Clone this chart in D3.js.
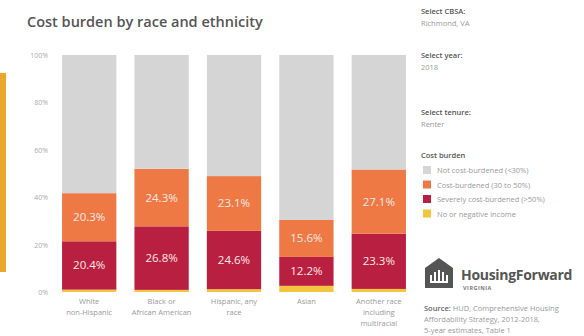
<!DOCTYPE html>
<html>
<head>
<meta charset="utf-8">
<script src="https://cdn.jsdelivr.net/npm/d3@7"></script>
<style>
  body { margin: 0; background: #fff; }
  svg text { font-family: "Open Sans", "Noto Sans", sans-serif; }
</style>
</head>
<body>
<svg id="chart" width="584" height="336"></svg>
<script>
// data
var categories = ["White non-Hispanic", "Black or African American", "Hispanic, any race", "Asian", "Another race including multiracial"];
var catLines = [["White", "non-Hispanic"], ["Black or", "African American"], ["Hispanic, any", "race"], ["Asian"], ["Another race", "including", "multiracial"]];
var noIncome = [1.0, 0.9, 1.2, 2.6, 1.3];
var severe = [20.4, 26.8, 24.6, 12.2, 23.3];
var burdened = [20.3, 24.3, 23.1, 15.6, 27.1];
var seriesNames = ["Not cost-burdened (<30%)", "Cost-burdened (30 to 50%)", "Severely cost-burdened (>50%)", "No or negative income"];
var seriesColors = ["#d5d5d5", "#ee7945", "#b91f41", "#f4c53f"];
var yTicks = [0, 20, 40, 60, 80, 100];

var svg = d3.select('#chart');

// left accent bar
svg.append('rect').attr('x', 0).attr('y', 73).attr('width', 6).attr('height', 199).attr('fill', '#e9a82b');

svg.append('text')
    .attr('x', 27).attr('y', 27)
    .attr('font-size', 14.5).attr('font-weight', 600)
    .attr('fill', '#555')
    .text('Cost burden by race and ethnicity');

var x = d3.scaleBand().domain(categories).range([53, 415]).paddingInner(0.25).paddingOuter(0.125);
var y = d3.scaleLinear().domain([0, 100]).range([292, 55]);

// y axis labels
svg.selectAll('.ytick')
    .data(yTicks)
    .enter()
    .append('text')
    .attr('x', 48)
    .attr('y', d => y(d) + 3)
    .attr('text-anchor', 'end')
    .attr('font-size', 7)
    .attr('fill', '#aaa')
    .text(d => d + '%');

// stack rows
var rows = categories.map((c, i) => {
    var not = 100 - noIncome[i] - severe[i] - burdened[i];
    return {cat: c, segs: [
        {k: 3, v: noIncome[i]},
        {k: 2, v: severe[i]},
        {k: 1, v: burdened[i]},
        {k: 0, v: not}
    ]};
});
rows.forEach(r => {
    var acc = 0;
    r.segs.forEach(s => { s.y0 = acc; acc += s.v; s.y1 = acc; });
});

var groups = svg.selectAll('.bar')
    .data(rows)
    .enter()
    .append('g')
    .attr('transform', d => 'translate(' + x(d.cat) + ',0)');

groups.selectAll('rect')
    .data(d => d.segs)
    .enter()
    .append('rect')
    .attr('x', 0)
    .attr('width', x.bandwidth())
    .attr('y', d => y(d.y1))
    .attr('height', d => y(d.y0) - y(d.y1))
    .attr('fill', d => seriesColors[d.k]);

groups.selectAll('.lbl')
    .data(d => d.segs.filter(s => s.k == 1 || s.k == 2))
    .enter()
    .append('text')
    .attr('x', x.bandwidth() / 2)
    .attr('y', d => y((d.y0 + d.y1) / 2) + 4)
    .attr('text-anchor', 'middle')
    .attr('font-family', 'Lato, sans-serif')
    .attr('font-size', 11.5)
    .attr('fill', '#fbe9e6')
    .text(d => d.v.toFixed(1) + '%');

// x labels
categories.forEach((c, i) => {
    var t = svg.append('text')
        .attr('x', x(c) + x.bandwidth() / 2)
        .attr('y', 304)
        .attr('text-anchor', 'middle')
        .attr('font-size', 7.5)
        .attr('fill', '#999');
    catLines[i].forEach((ln, j) => {
        t.append('tspan').attr('x', x(c) + x.bandwidth() / 2).attr('dy', j == 0 ? 0 : 11).text(ln);
    });
});

// right panel
var panel = [
    ["Select CBSA:", 14], ["Richmond, VA", 26],
    ["Select year:", 58], ["2018", 70],
    ["Select tenure:", 115], ["Renter", 127]
];
panel.forEach((p, i) => {
    svg.append('text')
        .attr('x', 421).attr('y', p[1])
        .attr('font-size', 7.5)
        .attr('font-weight', i % 2 == 0 ? 600 : 400)
        .attr('fill', i % 2 == 0 ? '#555' : '#999')
        .text(p[0]);
});

svg.append('text')
    .attr('x', 421).attr('y', 158)
    .attr('font-size', 7.5).attr('font-weight', 600).attr('fill', '#555')
    .text('Cost burden');

var leg = svg.selectAll('.leg')
    .data(seriesNames)
    .enter()
    .append('g')
    .attr('transform', (d, i) => 'translate(423,' + (166 + i * 14.5) + ')');
leg.append('rect').attr('width', 8).attr('height', 8).attr('fill', (d, i) => seriesColors[i]);
leg.append('text')
    .attr('x', 14).attr('y', 7)
    .attr('font-size', 7.5).attr('fill', '#999')
    .text(d => d);

// logo
var logo = svg.append('g').attr('transform', 'translate(425,258)');
logo.append('path')
    .attr('d', 'M0,10 L14,0 L28,10 L28,30 L0,30 Z')
    .attr('fill', '#555');
[6, 10, 14, 18, 22].forEach(function(px, i) {
    var h = [7, 10, 12, 10, 7][i];
    logo.append('rect').attr('x', px - 1).attr('y', 24 - h).attr('width', 2).attr('height', h).attr('fill', '#fff');
});
logo.append('rect').attr('x', 5).attr('y', 23).attr('width', 18).attr('height', 2).attr('fill', '#fff');
svg.append('text')
    .attr('x', 461).attr('y', 280)
    .attr('font-size', 14).attr('font-weight', 700).attr('fill', '#555')
    .attr('letter-spacing', -0.3)
    .text('HousingForward');
svg.append('text')
    .attr('x', 463).attr('y', 290)
    .attr('font-size', 5.5).attr('font-weight', 700).attr('fill', '#777')
    .attr('letter-spacing', 0.5)
    .text('VIRGINIA');

// source
var src = svg.append('text').attr('x', 424).attr('y', 311).attr('font-size', 7.5).attr('fill', '#999');
src.append('tspan').attr('font-weight', 600).attr('fill', '#666').text('Source: ');
src.append('tspan').text('HUD, Comprehensive Housing');
svg.append('text').attr('x', 424).attr('y', 322).attr('font-size', 7.5).attr('fill', '#999')
    .text('Affordability Strategy, 2012-2018,');
svg.append('text').attr('x', 424).attr('y', 333).attr('font-size', 7.5).attr('fill', '#999')
    .text('5-year estimates, Table 1');
</script>
</body>
</html>
